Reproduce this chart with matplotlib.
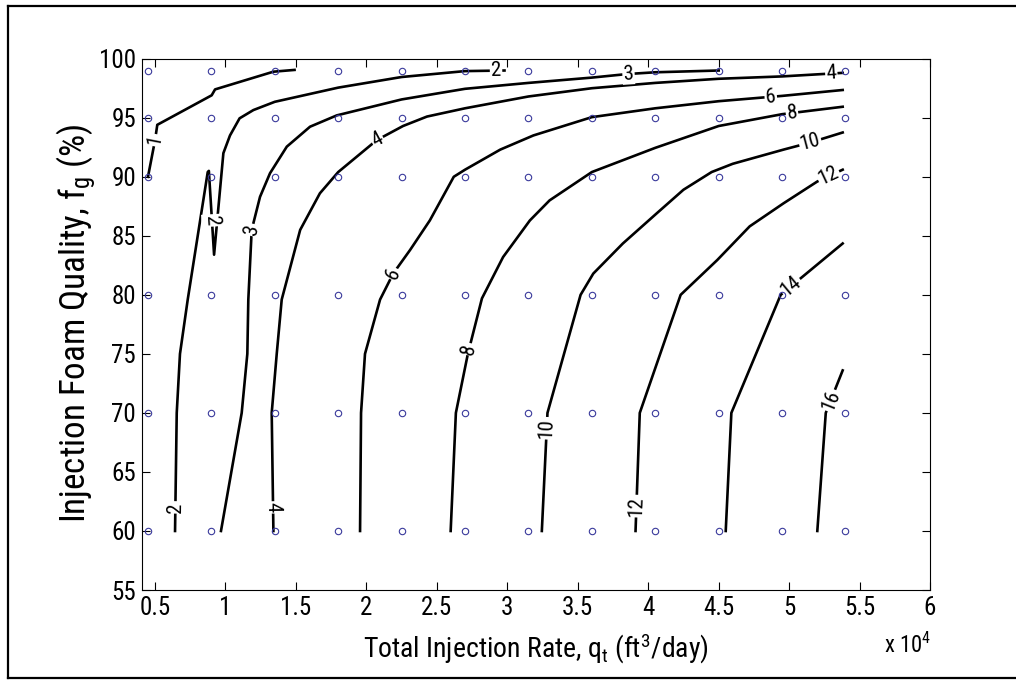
import numpy as np
import matplotlib
matplotlib.use('Agg')
import matplotlib.pyplot as plt
from matplotlib import font_manager
from matplotlib.lines import Line2D

# sample grid (q in 1e4 ft3/day, fg in %)
q_grid = [0.45, 0.9, 1.35, 1.8, 2.25, 2.7, 3.15, 3.6, 4.05, 4.5, 4.95, 5.4]
fg_grid = [60, 70, 80, 90, 95, 99]

# contour traces, one pair per level
lev1_q = [0.45, 0.50, 0.516, 0.902, 0.926, 1.34, 1.49]
lev1_fg = [90.0, 93.1, 94.4, 96.9, 97.4, 98.9, 99.05]

lev2_q = [0.642, 0.654, 0.677, 0.732, 0.874, 0.882, 0.919, 0.985, 1.032, 1.10, 1.198,
          1.35, 1.8, 2.25, 2.7, 2.98]
lev2_fg = [60.0, 70.0, 75.0, 79.6, 90.4, 90.5, 83.4, 92.0, 93.5, 94.95, 95.65,
           96.35, 97.55, 98.45, 98.95, 99.0]

lev3_q = [0.968, 1.115, 1.155, 1.162, 1.186, 1.245, 1.316, 1.435, 1.60, 1.79, 2.25,
          2.7, 3.15, 3.6, 3.85, 4.05, 4.5]
lev3_fg = [60.0, 70.0, 75.0, 79.6, 85.5, 88.3, 90.3, 92.55, 94.24, 95.2, 96.55,
           97.45, 97.95, 98.4, 98.7, 98.85, 99.0]

lev4_q = [1.340, 1.328, 1.364, 1.399, 1.53, 1.67, 1.8, 2.073, 2.26, 2.43, 2.7,
          3.15, 3.6, 4.05, 4.5, 4.95, 5.38]
lev4_fg = [60.0, 70.0, 75.05, 79.6, 85.5, 88.6, 90.4, 93.1, 94.3, 95.1, 95.8,
           96.8, 97.5, 97.95, 98.3, 98.5, 98.8]

lev6_q = [1.955, 1.962, 1.99, 2.097, 2.19, 2.31, 2.45, 2.62, 2.7, 2.95, 3.185,
          3.6, 4.05, 4.5, 4.95, 5.38]
lev6_fg = [60.0, 70.0, 75.0, 79.6, 81.8, 83.8, 86.3, 90.0, 90.6, 92.3, 93.5,
           95.05, 95.8, 96.4, 96.85, 97.35]

lev8_q = [2.598, 2.635, 2.72, 2.82, 2.97, 3.16, 3.30, 3.6, 4.05, 4.5, 4.95, 5.38]
lev8_fg = [60.0, 70.0, 75.0, 79.7, 83.2, 86.3, 88.0, 90.4, 92.45, 94.3, 95.3, 95.93]

lev10_q = [3.245, 3.285, 3.52, 3.61, 3.82, 4.06, 4.25, 4.45, 4.6, 4.96, 5.15, 5.38]
lev10_fg = [60.0, 70.0, 80.0, 81.8, 84.35, 86.9, 88.9, 90.4, 91.1, 92.3, 92.9, 93.75]

lev12_q = [3.91, 3.94, 4.23, 4.49, 4.72, 4.96, 5.20, 5.38]
lev12_fg = [60.0, 70.0, 80.0, 82.95, 85.8, 87.75, 89.6, 90.6]

lev14_q = [4.55, 4.59, 4.94, 5.38]
lev14_fg = [60.0, 70.0, 80.0, 84.35]

lev16_q = [5.20, 5.26, 5.38]
lev16_fg = [60.0, 70.0, 73.6]

levels = [1, 2, 3, 4, 6, 8, 10, 12, 14, 16]

# inline label spots
label_level = [1, 2, 2, 2, 3, 3, 4, 4, 4, 6, 6, 8, 8, 10, 10, 12, 12, 14, 16]
label_q = [0.50, 0.64, 0.90, 2.92, 1.19, 3.86, 1.34, 2.08, 5.30, 2.19, 4.87,
           2.76, 5.02, 3.28, 5.15, 3.93, 5.28, 5.01, 5.31]
label_fg = [93.1, 62.0, 86.3, 99.0, 85.5, 98.7, 62.0, 93.1, 98.6, 81.8, 96.7,
            75.3, 95.4, 68.7, 92.9, 62.1, 90.1, 80.8, 71.0]

# narrow sans for everything, first one found wins
names = set(f.name for f in font_manager.fontManager.ttflist)
fam = 'Liberation Sans'
for cand in ['Nimbus Sans Narrow', 'Liberation Sans Narrow', 'Arial Narrow',
             'Roboto Condensed', 'IBM Plex Sans Condensed', 'PT Sans Narrow',
             'Archivo Narrow']:
    if cand in names:
        fam = cand
        break

plt.rcParams['font.family'] = [fam, 'DejaVu Sans']
plt.rcParams['mathtext.fontset'] = 'custom'
plt.rcParams['mathtext.rm'] = fam
plt.rcParams['mathtext.it'] = fam

fig = plt.figure(figsize=(10.16, 6.81), dpi=100)
ax = fig.add_axes([0.1395, 0.1336, 0.7759, 0.7802])

lines = {
    1: (lev1_q, lev1_fg), 2: (lev2_q, lev2_fg), 3: (lev3_q, lev3_fg),
    4: (lev4_q, lev4_fg), 6: (lev6_q, lev6_fg), 8: (lev8_q, lev8_fg),
    10: (lev10_q, lev10_fg), 12: (lev12_q, lev12_fg), 14: (lev14_q, lev14_fg),
    16: (lev16_q, lev16_fg),
}

for lev in levels:
    xs, ys = lines[lev]
    ax.plot(xs, ys, color='black', lw=1.9, solid_joinstyle='round', zorder=2)

Q, F = np.meshgrid(q_grid, fg_grid)
ax.plot(Q.ravel(), F.ravel(), 'o', ls='none', ms=4.6, mfc='none', mec='#3a3a9c',
        mew=0.8, zorder=4)

ax.set_xlim(0.4056, 6)
ax.set_ylim(55, 100)
xt = np.arange(0.5, 6.01, 0.5)
ax.set_xticks(xt)
ax.set_xticklabels(['%g' % v for v in xt])
ax.set_yticks(np.arange(55, 101, 5))
ax.tick_params(direction='in', top=True, right=True, length=5.5, width=0.8,
               labelsize=18, pad=4)
for s in ax.spines.values():
    s.set_linewidth(0.8)

# contour labels, rotated along the local segment
for lev, lq, lf in zip(label_level, label_q, label_fg):
    xs, ys = lines[lev]
    pts = ax.transData.transform(np.column_stack([xs, ys]))
    p = ax.transData.transform((lq, lf))
    best = None
    for i in range(len(pts) - 1):
        a, b = pts[i], pts[i + 1]
        d = b - a
        t = np.clip(np.dot(p - a, d) / np.dot(d, d), 0, 1)
        c = a + t * d
        dist = np.hypot(*(p - c))
        if best is None or dist < best[0]:
            best = (dist, c, d)
    _, c, d = best
    ang = np.degrees(np.arctan2(d[1], d[0]))
    if ang > 90:
        ang -= 180
    if ang <= -90:
        ang += 180
    cq, cf = ax.transData.inverted().transform(c)
    ax.text(cq, cf, str(lev), rotation=ang, rotation_mode='anchor',
            ha='center', va='center', fontsize=15, zorder=3,
            bbox=dict(boxstyle='square,pad=0.05', fc='white', ec='none'))

xl = fig.text(536 / 1016, 1 - 658 / 681,
              r'Total Injection Rate, q$_\mathregular{t}$ (ft$^\mathregular{3}$/day)',
              ha='center', va='baseline', fontsize=22)
yl = fig.text(85 / 1016, 1 - 323 / 681,
              r'Injection Foam Quality, f$_\mathregular{g}$ (%)',
              ha='center', va='baseline', rotation=90, rotation_mode='anchor',
              fontsize=22)
ex = fig.text(931 / 1016, 1 - 653 / 681, r'x 10$^\mathregular{4}$', ha='right',
              va='baseline', fontsize=18)

# size the axis titles to their span in pixels
r = fig.canvas.get_renderer()
w = xl.get_window_extent(r).width
xl.set_fontsize(22 * 345.0 / w)
h = yl.get_window_extent(r).height
yl.set_fontsize(22 * 400.0 / h)
w = ex.get_window_extent(r).width
ex.set_fontsize(18 * 47.0 / w)

# outer frame
fw = 1.6
fig.add_artist(Line2D([8 / 1016, 8 / 1016], [1 - 678 / 681, 1 - 6 / 681],
                      transform=fig.transFigure, color='black', lw=fw))
fig.add_artist(Line2D([8 / 1016, 1.0], [1 - 6 / 681, 1 - 6 / 681],
                      transform=fig.transFigure, color='black', lw=fw))
fig.add_artist(Line2D([8 / 1016, 1.0], [1 - 678 / 681, 1 - 678 / 681],
                      transform=fig.transFigure, color='black', lw=fw))

fig.savefig('out.png', dpi=100)
